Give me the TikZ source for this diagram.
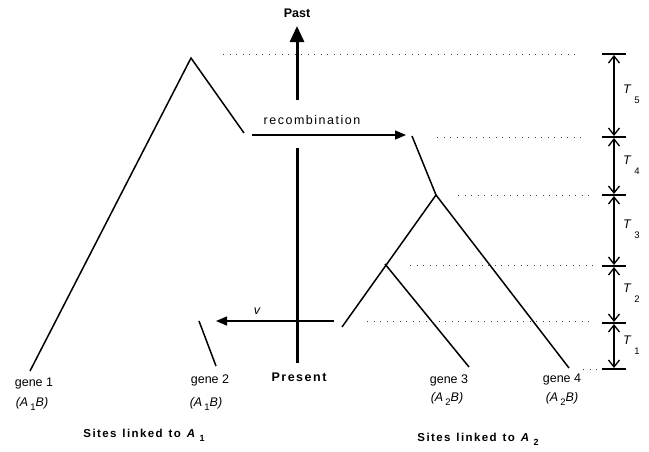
\documentclass[tikz,border=0pt]{standalone}
\usepackage{fontspec}
\setmainfont{Liberation Sans}
\usetikzlibrary{arrows.meta,calc}
\newfontfamily\spacedfont[LetterSpace=12]{Liberation Sans}
\newcommand{\subl}[1]{\raisebox{-0.55ex}{\fontsize{9.5}{11}\selectfont\upshape #1}}
\newcommand{\sitescap}[1]{\spacedfont\bfseries Sites\hspace{6pt}linked\hspace{6pt}to\hspace{6pt}\textit{A}\hspace{3pt}\raisebox{-0.7ex}{\fontsize{9}{11}\selectfont #1}}
\begin{document}
\begin{tikzpicture}[x=1pt,y=-1pt,
  branch/.style={line width=1.5pt},
  dotline/.style={line width=1pt, dash pattern=on 1pt off 5.5pt, black!75},
  tickline/.style={line width=1.5pt},
  tarrow/.style={line width=1.2pt, {Straight Barb[length=7pt,width=11pt,line width=1.3pt]}-{Straight Barb[length=7pt,width=11pt,line width=1.3pt]}},
  harrow/.style={line width=1.3pt, -{Triangle[length=11pt,width=9pt]}},
  timeaxis/.style={line width=3pt},
  lab/.style={font=\fontsize{12.5}{14}\selectfont, inner sep=0pt},
  blab/.style={font=\fontsize{12.5}{14}\selectfont\bfseries, inner sep=0pt},
  ilab/.style={font=\fontsize{12.5}{14}\selectfont\itshape, inner sep=0pt},
  slab/.style={font=\fontsize{11.5}{13}\selectfont\bfseries, inner sep=0pt}
]
\useasboundingbox (0,0) rectangle (649,451);

% tree vertices
\coordinate (Ltop) at (191,58);
\coordinate (g1) at (30,371);
\coordinate (Lr) at (244,133);
\coordinate (g2a) at (199,321);
\coordinate (g2b) at (216,366);
\coordinate (R0) at (412,136);
\coordinate (Rn) at (436,195);
\coordinate (Ri) at (385,264);
\coordinate (Rl) at (342,327);
\coordinate (g3) at (469,367);
\coordinate (g4) at (569,368);

% left tree
\draw[branch] (g1) -- (Ltop) -- (Lr);
\draw[branch] (g2a) -- (g2b);
% right tree
\draw[branch] (R0) -- (Rn);
\draw[branch] (Rl) -- (Rn) -- (g4);
\draw[branch] (Ri) -- (g3);

% dotted time lines
\coordinate (d5a) at (223,54);  \coordinate (d5b) at (575,54);
\coordinate (d4a) at (437,137); \coordinate (d4b) at (582,137);
\coordinate (d3a) at (458,195); \coordinate (d3b) at (594,195);
\coordinate (d2a) at (410,265); \coordinate (d2b) at (594,265);
\coordinate (d1a) at (367,321); \coordinate (d1b) at (594,321);
\coordinate (d0a) at (583,369); \coordinate (d0b) at (598,369);
\foreach \a/\b in {d5a/d5b,d4a/d4b,d3a/d3b,d2a/d2b,d1a/d1b,d0a/d0b}
  \draw[dotline] (\a) -- (\b);

% time axis
\coordinate (axbot) at (297,363);
\coordinate (axmid1) at (297,148);
\coordinate (axmid2) at (297,100);
\coordinate (axtop) at (297,26);
\draw[timeaxis] (axbot) -- (axmid1);
\draw[timeaxis, -{Triangle[length=16pt,width=14pt]}] (axmid2) -- (axtop);
\node[blab] (past) at (297,13) {Past};
\node[blab] (present) at (299,377) {\spacedfont\bfseries Present};

% recombination arrow
\coordinate (recA) at (252,135);
\coordinate (recB) at (406,135);
\draw[harrow] (recA) -- (recB);
\node[lab] (reclab) at (312,120) {\spacedfont recombination};

% migration arrow
\coordinate (vA) at (334,321);
\coordinate (vB) at (216,321);
\draw[harrow] (vA) -- (vB);
\node[ilab] (vlab) at (257,311) {v};

% time intervals
\foreach \y [count=\i] in {54,137,195,266,323,369}
  \draw[tickline] (602,\y) coordinate (tl\i) -- (626,\y) coordinate (tr\i);
\foreach \i/\j in {1/2,2/3,3/4,4/5,5/6}
  \draw[tarrow] ($(tl\i)!0.5!(tr\i)+(0,1)$) -- ($(tl\j)!0.5!(tr\j)+(0,-1)$);
\foreach \m/\n in {95/5,166/4,230/3,294/2,346/1}{
  \node[ilab] at (627,\m-6) {T};
  \node[lab, font=\fontsize{9.5}{11}\selectfont] at (637,\m+5) {\n};
}

% gene labels
\node[lab] (gene1) at (34,383) {gene 1};
\node[ilab] (al1) at (32,404) {(A\,\subl{1}B)};
\node[lab] (gene2) at (210,380) {gene 2};
\node[ilab] (al2) at (206,404) {(A\,\subl{1}B)};
\node[lab] (gene3) at (449,380) {gene 3};
\node[ilab] (al3) at (447,399) {(A\,\subl{2}B)};
\node[lab] (gene4) at (562,379) {gene 4};
\node[ilab] (al4) at (562,399) {(A\,\subl{2}B)};

% bottom captions
\node[slab] (cap1) at (144,435) {\sitescap{1}};
\node[slab] (cap2) at (478,439) {\sitescap{2}};
\end{tikzpicture}
\end{document}
